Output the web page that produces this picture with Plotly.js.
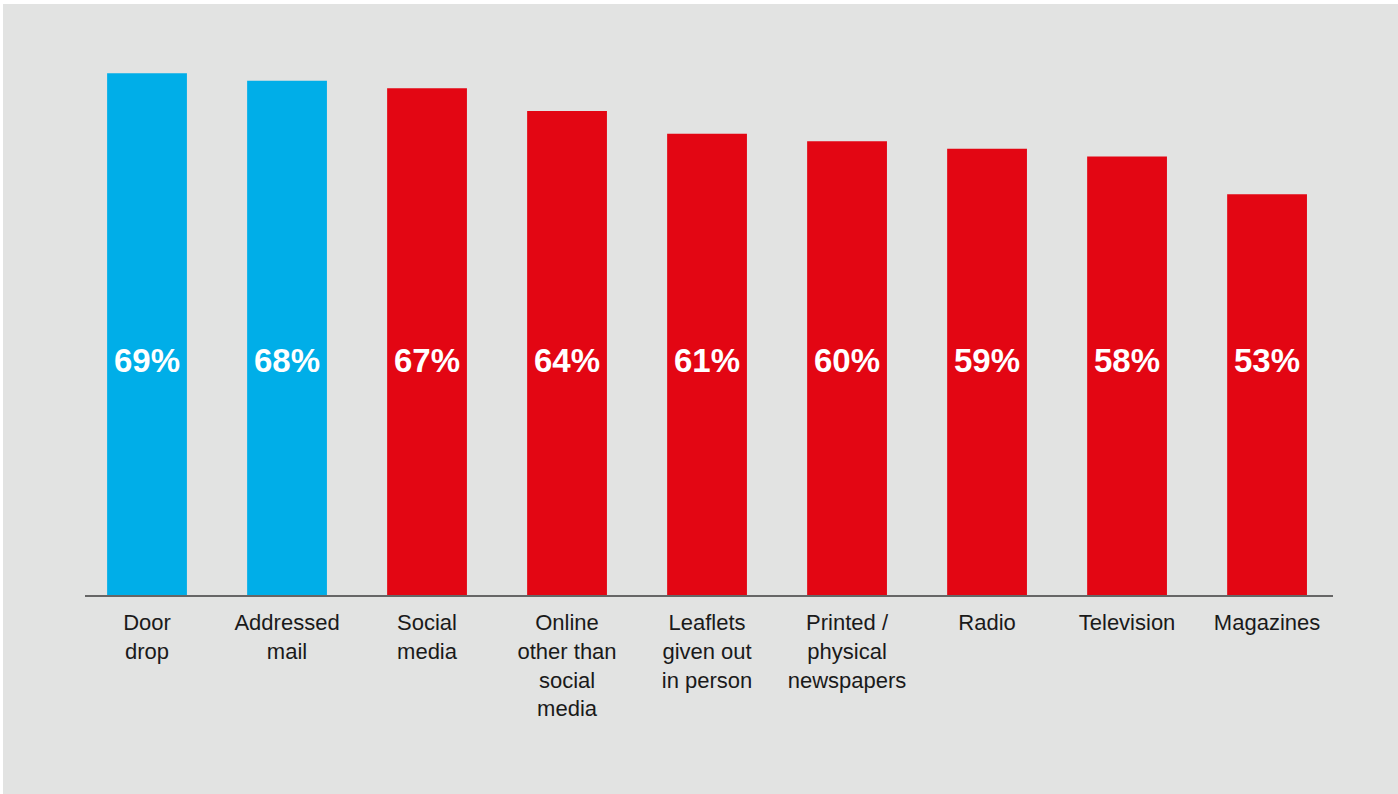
<!DOCTYPE html>
<html><head><meta charset="utf-8">
<script src="https://cdn.plot.ly/plotly-3.0.1.min.js"></script>
<style>
html,body{margin:0;padding:0;background:#ffffff;}
#chart{position:absolute;left:3px;top:4px;width:1395px;height:790px;}
</style></head>
<body><div id="chart"></div>
<script>
const categories = ["Door drop","Addressed mail","Social media","Online other than social media","Leaflets given out in person","Printed / physical newspapers","Radio","Television","Magazines"];
const tickLabels = ["Door<br>drop","Addressed<br>mail","Social<br>media","Online<br>other than<br>social<br>media","Leaflets<br>given out<br>in person","Printed /<br>physical<br>newspapers","Radio","Television","Magazines"];
const values = [69,68,67,64,61,60,59,58,53];
const highlight = [true,true,false,false,false,false,false,false,false];

const BLUE = "#00aee8", RED = "#e30613";
const colors = highlight.map(h => h ? BLUE : RED);

const trace = {
  type: "bar",
  x: categories,
  y: values,
  marker: {color: colors, line: {width: 0}},
  hoverinfo: "none"
};

const annotations = categories.map((c, i) => ({
  x: c, xref: "x",
  y: 31, yref: "y",
  text: "<b>" + values[i] + "%</b>",
  showarrow: false,
  font: {family: "Liberation Sans, Arial, sans-serif", size: 33, color: "#ffffff"},
  xanchor: "center", yanchor: "middle"
}));

const layout = {
  width: 1395, height: 790,
  paper_bgcolor: "#e2e3e2",
  plot_bgcolor: "#e2e3e2",
  margin: {l: 82, r: 65, t: 46, b: 199},
  bargap: 0.43,
  showlegend: false,
  xaxis: {
    type: "category",
    range: [-0.443, 8.471],
    tickvals: categories,
    ticktext: tickLabels,
    showline: true, linecolor: "#666666", linewidth: 2,
    ticks: "", showgrid: false, zeroline: false,
    ticklabelstandoff: 7,
    tickfont: {family: "Liberation Sans, Arial, sans-serif", size: 22, color: "#1a1a1a"},
    fixedrange: true
  },
  yaxis: {
    range: [0, 72.07],
    visible: false, showgrid: false, zeroline: false,
    fixedrange: true
  },
  annotations: annotations
};

Plotly.newPlot("chart", [trace], layout, {displayModeBar: false, staticPlot: true});
</script></body></html>
